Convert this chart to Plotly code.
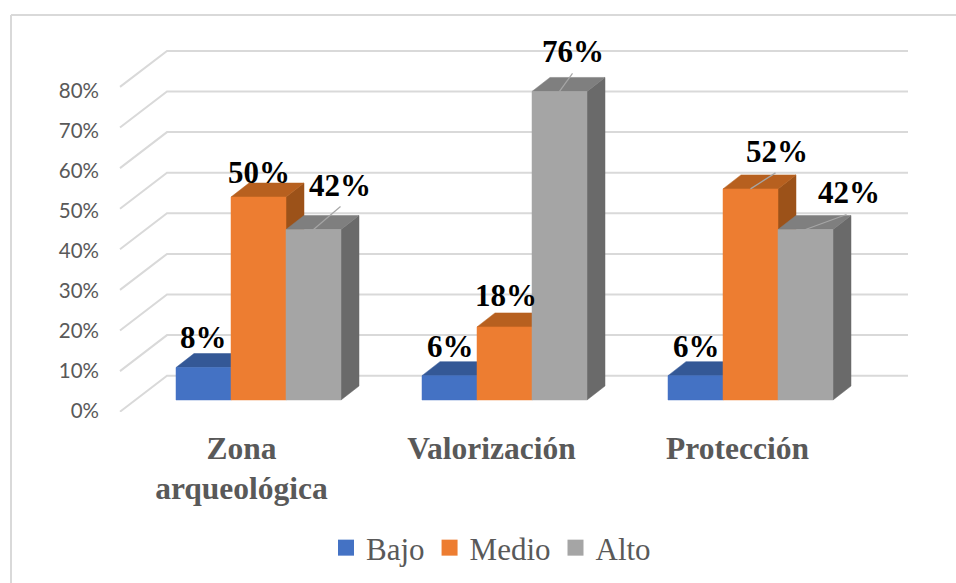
import plotly.graph_objects as go

categories = ["Zona<br>arqueológica", "Valorización", "Protección"]
series_names = ["Bajo", "Medio", "Alto"]
bajo = [8, 6, 6]
medio = [50, 18, 52]
alto = [42, 76, 42]
y_ticks = [0, 10, 20, 30, 40, 50, 60, 70, 80]

series_values = [bajo, medio, alto]
front_colors = ["#4472c4", "#ed7d31", "#a5a5a5"]
top_colors = ["#345896", "#b7601f", "#7f7f7f"]
side_colors = ["#2b4a80", "#9c5219", "#6a6a6a"]
GRID = "#d9d9d9"
TEXT = "#595959"
SERIF = "Liberation Serif"

# pixel layout of the plot rectangle
WIDTH, HEIGHT = 956, 583
LEFT, RIGHT, TOP, BOTTOM = 104, 925, 30, 412
X_ZERO, X_PER_CAT = 258.5, 246.0   # px of first category centre, px per category
Y_ZERO, Y_PER_PCT = 400.0, 4.06    # px of 0% on the bar plane, px per percent


def dx(px):
    return px / X_PER_CAT


def dy(px):
    return px / Y_PER_PCT


def paper_x(px):
    return (px - LEFT) / (RIGHT - LEFT)


def paper_y(px):
    return (BOTTOM - px) / (BOTTOM - TOP)


x_range = [dx(LEFT - X_ZERO), dx(RIGHT - X_ZERO)]
y_range = [dy(Y_ZERO - BOTTOM), dy(Y_ZERO - TOP)]

bar_w = dx(55)
depth_x, depth_y = dx(18), dy(14)
# label offset from the middle of the bar's front top edge, in px (up is positive)
label_dx = [[0, 1, 1], [0, 1, 26], [26, 13, 43]]
label_dy = [[30, 29, 29], [25, 31, 37], [44, 40, 37]]
# leader line end, same reference point; (0, 0) means no leader
leader_dx = [[0, 0, 0], [0, 0, 25], [27, 13, 41]]
leader_dy = [[0, 0, 0], [0, 0, 16], [23, 18, 15]]
tick_shift = [-17, -13, -13]

fig = go.Figure()

# wall and floor gridlines: front-left end, back-left corner, back-right end
for t in y_ticks:
    fig.add_trace(go.Scatter(
        x=[dx(120 - X_ZERO), dx(167 - X_ZERO), dx(908 - X_ZERO)],
        y=[t - dy(11.7), t + dy(24.3), t + dy(24.3)],
        mode="lines", line=dict(color=GRID, width=2),
        showlegend=False, hoverinfo="skip", cliponaxis=False,
    ))

annotations = []
leader_x, leader_y = [], []
for s, values in enumerate(series_values):
    side_x, side_y, top_x, top_y, front_x, front_y = [], [], [], [], [], []
    for c, v in enumerate(values):
        x0 = c + (s - 1.5) * bar_w
        x1 = x0 + bar_w
        mid = (x0 + x1) / 2
        side_x += [x1, x1 + depth_x, x1 + depth_x, x1, x1, None]
        side_y += [0, depth_y, v + depth_y, v, 0, None]
        top_x += [x0, x0 + depth_x, x1 + depth_x, x1, x0, None]
        top_y += [v, v + depth_y, v + depth_y, v, v, None]
        front_x += [x0, x1, x1, x0, x0, None]
        front_y += [0, 0, v, v, 0, None]

        annotations.append(dict(
            x=mid, y=v, text=f"<b>{v}%</b>", xref="x", yref="y", showarrow=False,
            xshift=label_dx[s][c], yshift=label_dy[s][c],
            font=dict(family=SERIF, size=31, color="black"),
        ))
        if leader_dx[s][c]:
            leader_x += [mid, mid + dx(leader_dx[s][c]), None]
            leader_y += [v, v + dy(leader_dy[s][c]), None]

    for xs, ys, color in [(side_x, side_y, side_colors[s]),
                          (top_x, top_y, top_colors[s]),
                          (front_x, front_y, front_colors[s])]:
        fig.add_trace(go.Scatter(
            x=xs, y=ys, mode="lines", fill="toself", fillcolor=color,
            line=dict(color=color, width=0.5),
            showlegend=False, hoverinfo="skip",
        ))

fig.add_trace(go.Scatter(
    x=leader_x, y=leader_y, mode="lines", line=dict(color="#a6a6a6", width=1.2),
    showlegend=False, hoverinfo="skip",
))

# legend swatches
for s, name in enumerate(series_names):
    fig.add_trace(go.Scatter(
        x=[None], y=[None], mode="markers", name=name,
        marker=dict(symbol="square", size=16, color=front_colors[s]),
    ))

# second y axis carries the labels, which sit on the front edge of the floor
fig.add_trace(go.Scatter(x=[None], y=[None], yaxis="y2", showlegend=False))

fig.update_layout(
    width=WIDTH,
    height=HEIGHT,
    margin=dict(l=LEFT, r=WIDTH - RIGHT, t=TOP, b=HEIGHT - BOTTOM, pad=0),
    paper_bgcolor="white",
    plot_bgcolor="white",
    annotations=annotations,
    showlegend=True,
    legend=dict(
        orientation="h", xref="container", yref="container",
        x=491 / WIDTH, xanchor="center",
        y=1 - 548 / HEIGHT, yanchor="middle",
        font=dict(family=SERIF, size=31, color=TEXT),
        bgcolor="rgba(0,0,0,0)",
    ),
    xaxis=dict(
        range=x_range, showgrid=False, zeroline=False, showline=False,
        tickmode="array", tickvals=[c + dx(tick_shift[c]) for c in range(3)],
        ticktext=[f"<b>{c}</b>" for c in categories],
        tickfont=dict(family=SERIF, size=31.5, color=TEXT),
        ticks="", ticklabelstandoff=14,
    ),
    yaxis=dict(range=y_range, visible=False),
    yaxis2=dict(
        range=[-0.25, 95.25], overlaying="y", side="left", anchor="x",
        tickmode="array", tickvals=y_ticks, ticktext=[f"{t}%" for t in y_ticks],
        tickfont=dict(family="Lato", size=20.5, color=TEXT),
        showgrid=False, zeroline=False, showline=False, ticks="",
        ticklabelstandoff=4,
    ),
    # chart frame: only the top and left edges fall inside the picture
    shapes=[
        dict(type="line", xref="paper", yref="paper",
             x0=paper_x(11), x1=paper_x(956), y0=paper_y(15), y1=paper_y(15),
             line=dict(color=GRID, width=2)),
        dict(type="line", xref="paper", yref="paper",
             x0=paper_x(11), x1=paper_x(11), y0=paper_y(15), y1=paper_y(583),
             line=dict(color=GRID, width=2)),
    ],
)

fig.write_html("out.html", config={"displayModeBar": False},
               post_script="document.body.style.margin = '0';")
